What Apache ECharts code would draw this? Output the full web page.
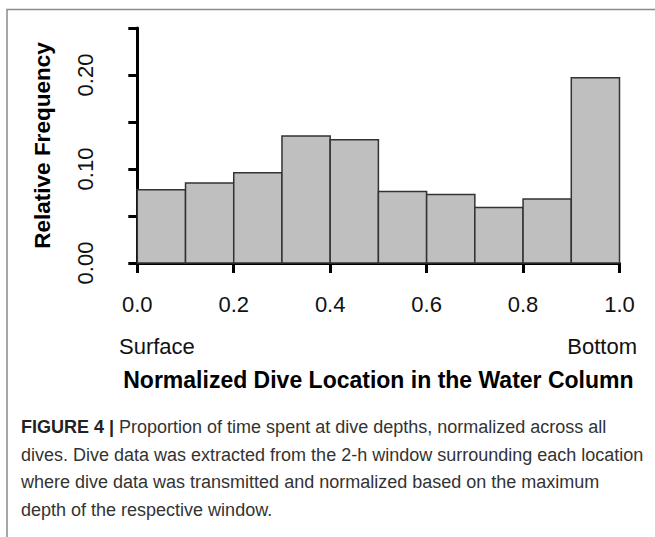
<!DOCTYPE html>
<html>
<head>
<meta charset="utf-8">
<script src="https://cdn.jsdelivr.net/npm/echarts@6/dist/echarts.min.js"></script>
<style>
html,body{margin:0;padding:0;background:#fff;}
#chart{width:655px;height:537px;}
</style>
</head>
<body>
<div id="chart"></div>
<script>
// Histogram bin edges (normalized dive location) and relative frequencies
const binStarts = [0.0, 0.1, 0.2, 0.3, 0.4, 0.5, 0.6, 0.7, 0.8, 0.9];
const binEnds   = [0.1, 0.2, 0.3, 0.4, 0.5, 0.6, 0.7, 0.8, 0.9, 1.0];
const relFreq   = [0.078, 0.085, 0.096, 0.135, 0.131, 0.076, 0.073, 0.059, 0.068, 0.197];
const xTickLabels = ['0.0', '0.2', '0.4', '0.6', '0.8', '1.0'];
const yTickLabels = ['0.00', '0.10', '0.20'];
const xTitle = 'Normalized Dive Location in the Water Column';
const yTitle = 'Relative Frequency';
const endLabels = ['Surface', 'Bottom'];
const captionBold = 'FIGURE 4 |';
const captionLines = [
  ' Proportion of time spent at dive depths, normalized across all',
  'dives. Dive data was extracted from the 2-h window surrounding each location',
  'where dive data was transmitted and normalized based on the maximum',
  'depth of the respective window.'
];

const chart = echarts.init(document.getElementById('chart'), null, {renderer: 'svg'});
const FONT = '"Liberation Sans", Arial, sans-serif';

const data = binStarts.map((s, i) => [s, binEnds[i], relFreq[i]]);

const option = {
  animation: false,
  backgroundColor: '#fff',
  grid: {left: 137.3, right: 35.5, top: 28, bottom: 274, containLabel: false},
  xAxis: {
    type: 'value', min: 0, max: 1, interval: 0.2,
    offset: 10,
    axisLine: {show: true, lineStyle: {color: '#000', width: 3}},
    axisTick: {show: true, length: 10, lineStyle: {color: '#000', width: 3}},
    splitLine: {show: false},
    axisLabel: {
      margin: 20, fontSize: 22, color: '#111', fontFamily: FONT,
      formatter: v => { const s = v.toFixed(1); return xTickLabels.includes(s) ? s : ''; }
    },
    name: xTitle, nameLocation: 'middle', nameGap: 95,
    nameTextStyle: {fontSize: 23, fontWeight: 'bold', color: '#000', fontFamily: FONT}
  },
  yAxis: {
    type: 'value', min: 0, max: 0.25, interval: 0.05,
    offset: 20,
    axisLine: {show: true, lineStyle: {color: '#000', width: 3}},
    axisTick: {show: true, length: 9, lineStyle: {color: '#000', width: 3}},
    splitLine: {show: false},
    axisLabel: {
      margin: 21, fontSize: 22, color: '#111', fontFamily: FONT, rotate: 90,
      formatter: v => { const s = v.toFixed(2); return yTickLabels.includes(s) ? s : ''; }
    },
    name: yTitle, nameLocation: 'middle', nameGap: 63, nameRotate: 90,
    nameTextStyle: {fontSize: 22.5, fontWeight: 'bold', color: '#000', fontFamily: FONT}
  },
  series: [{
    type: 'custom',
    data: data,
    encode: {x: [0, 1], y: 2},
    renderItem: function (params, api) {
      const x0 = api.value(0), x1 = api.value(1), y = api.value(2);
      const p0 = api.coord([x0, y]);
      const p1 = api.coord([x1, 0]);
      return {
        type: 'rect',
        shape: {x: p0[0], y: p0[1], width: p1[0] - p0[0], height: p1[1] - p0[1]},
        style: {fill: '#bfbfbf', stroke: '#333', lineWidth: 1.5}
      };
    }
  }],
  graphic: [
    {type: 'rect', silent: true, z: -1,
     shape: {x: 7, y: 9.5, width: 700, height: 600},
     style: {fill: 'none', stroke: '#8a8a8a', lineWidth: 1.5}},
    {type: 'text', left: 119, top: 335,
     style: {text: endLabels[0], font: '22px ' + FONT, fill: '#111'}},
    {type: 'text', right: 18, top: 335,
     style: {text: endLabels[1], font: '22px ' + FONT, fill: '#111', textAlign: 'right'}},
    {type: 'text', left: 21, top: 418,
     style: {
       text: '{b|' + captionBold + '}{r|' + captionLines[0] + '}\n{r|' + captionLines.slice(1).join('}\n{r|') + '}',
       rich: {
         b: {font: 'bold 18px ' + FONT, fill: '#222', lineHeight: 27.5},
         r: {font: '18px ' + FONT, fill: '#333', lineHeight: 27.5}
       }
     }}
  ]
};
chart.setOption(option);
</script>
</body>
</html>
